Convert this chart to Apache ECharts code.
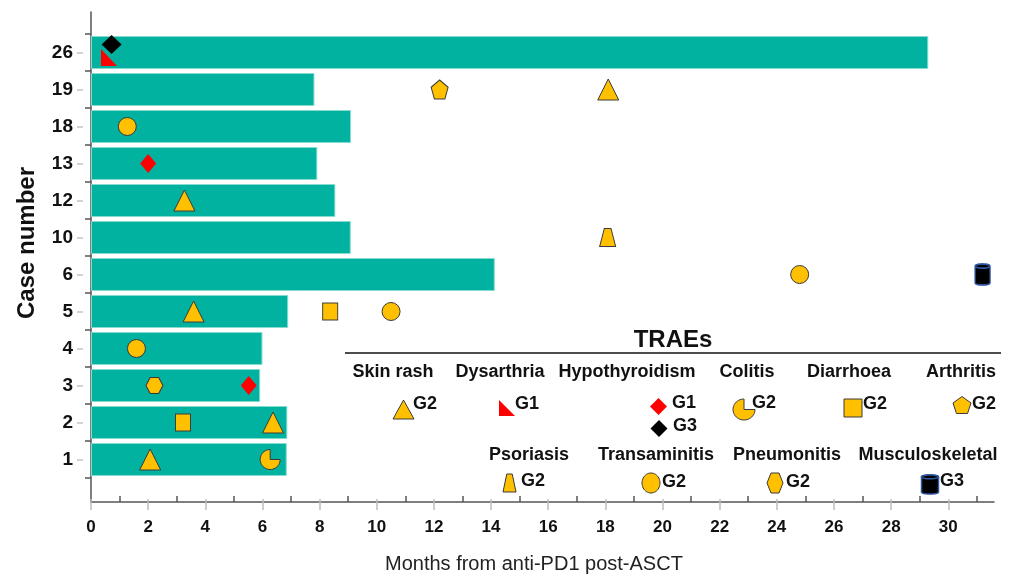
<!DOCTYPE html>
<html><head><meta charset="utf-8">
<script src="https://cdn.jsdelivr.net/npm/echarts@6/dist/echarts.min.js"></script>
<style>html,body{margin:0;padding:0;background:#fff}#c{width:1009px;height:579px}</style>
</head><body><div id="c"></div>
<script>
// ---------------- data ----------------
const cases = ['1','2','3','4','5','6','10','12','13','18','19','26'];
const monthsOnTreatment = [6.85, 6.87, 5.92, 6.0, 6.9, 14.13, 9.09, 8.55, 7.92, 9.1, 7.82, 29.3];
const xTickLabels = ['0','1','2','3','4','5','6','7','8','9','10','11','12','13','14','15','16','17','18','19','20','21','22','23','24','25','26','27','28','29','30','31'];
const xMax = 31.6;

const skinRashG2 = [[2.07,'1'],[6.37,'2'],[3.59,'5'],[3.27,'12'],[18.1,'19']];
const dysarthriaG1 = [[0.63,'26']];
const hypothyroidismG1 = [[5.52,'3'],[2.0,'13']];
const hypothyroidismG3 = [[0.72,'26']];
const colitisG2 = [[6.27,'1']];
const diarrhoeaG2 = [[3.22,'2'],[8.37,'5']];
const arthritisG2 = [[12.2,'19']];
const psoriasisG2 = [[18.08,'10']];
const transaminitisG2 = [[1.59,'4'],[10.5,'5'],[24.8,'6'],[1.27,'18']];
const pneumonitisG2 = [[2.22,'3']];
const musculoskeletalG3 = [[31.2,'6']];

const legendTitle = 'TRAEs';
const legendHeadings = ['Skin rash','Dysarthria','Hypothyroidism','Colitis','Diarrhoea','Arthritis','Psoriasis','Transaminitis','Pneumonitis','Musculoskeletal'];

// ---------------- shapes ----------------
function arc(a0, a1, n, rx, ry, cy) {
  const out = [];
  for (let i = 0; i <= n; i++) {
    const t = (a0 + (a1 - a0) * i / n) * Math.PI / 180;
    out.push([rx * Math.cos(t), cy + ry * Math.sin(t)]);
  }
  return out;
}
function regular(n, startDeg) {
  const out = [];
  for (let i = 0; i < n; i++) {
    const t = (startDeg + 360 * i / n) * Math.PI / 180;
    out.push([Math.cos(t), Math.sin(t)]);
  }
  return out;
}
const cylRy = 0.2;
const SHAPES = {
  triangle: [[[0,-1],[1,1],[-1,1]]],
  rightTriangle: [[[-1,-1],[1,1],[-1,1]]],
  diamond: [[[0,-1],[1,0],[0,1],[-1,0]]],
  square: [[[-1,-1],[1,-1],[1,1],[-1,1]]],
  pentagon: [regular(5, -90)],
  hexagon: [[[-1,0],[-0.5,-1],[0.5,-1],[1,0],[0.5,1],[-0.5,1]]],
  trapezoid: [[[-0.42,-1],[0.42,-1],[1,1],[-1,1]]],
  circle: [arc(0, 360, 48, 1, 1, 0)],
  pacman: [[[0,0]].concat(arc(0, 270, 36, 1, 1, 0))],
  cylinder: [
    arc(180, 360, 20, 1, cylRy, -1 + cylRy).concat(arc(0, 180, 20, 1, cylRy, 1 - cylRy)),
    arc(0, 360, 36, 1, cylRy, -1 + cylRy)
  ]
};
function bbox(polys) {
  let x0 = Infinity, y0 = Infinity, x1 = -Infinity, y1 = -Infinity;
  polys.forEach(p => p.forEach(([x, y]) => {
    x0 = Math.min(x0, x); y0 = Math.min(y0, y); x1 = Math.max(x1, x); y1 = Math.max(y1, y);
  }));
  return [x0, y0, x1, y1];
}
function symbolPath(name) {
  const polys = SHAPES[name];
  return 'path://' + polys.map(p => 'M' + p.map(([x, y]) => (x * 100).toFixed(2) + ',' + (y * 100).toFixed(2)).join('L') + 'Z').join(' ');
}
function legendShape(name, cx, cy, w, h, style) {
  const polys = SHAPES[name];
  const [x0, y0, x1, y1] = bbox(polys);
  const children = polys.map(p => ({
    type: 'polygon',
    shape: { points: p.map(([x, y]) => [cx - w / 2 + (x - x0) / (x1 - x0) * w, cy - h / 2 + (y - y0) / (y1 - y0) * h]) },
    style: Object.assign({}, style)
  }));
  return { type: 'group', children };
}

// ---------------- styles ----------------
const YEL = '#FFC000', RED = '#FF0000', BLK = '#000000';
const yellowStyle = { color: YEL, borderColor: '#3a3a3a', borderWidth: 1, opacity: 1 };
const redStyle = { color: RED, borderWidth: 0, opacity: 1 };
const blackStyle = { color: BLK, borderWidth: 0, opacity: 1 };
const cylStyle = { color: BLK, borderColor: '#2f56a0', borderWidth: 1.5, opacity: 1 };
const FONT = "'Liberation Sans', Arial, sans-serif";
const NARROW = "'Liberation Sans Narrow', 'Liberation Sans', sans-serif";

function scatter(name, data, symbol, size, style, offset) {
  return {
    type: 'scatter', name, data, xAxisIndex: 0, yAxisIndex: 0,
    symbol, symbolSize: size, symbolOffset: offset || [0, 0],
    itemStyle: style, z: 5, silent: true
  };
}

// ---------------- legend graphics ----------------
const gfx = [];
gfx.push({ type: 'text', x: 27, y: 243, rotation: Math.PI / 2,
  style: { text: 'Case number', fontSize: 24, fontWeight: 'bold', fontFamily: FONT, fill: '#111',
    textAlign: 'center', textVerticalAlign: 'middle', align: 'center', verticalAlign: 'middle' } });
gfx.push({ type: 'text', x: 673, y: 340,
  style: { text: legendTitle, fontSize: 24, fontWeight: 'bold', fontFamily: FONT, fill: '#111',
    textAlign: 'center', textVerticalAlign: 'middle', align: 'center', verticalAlign: 'middle' } });
gfx.push({ type: 'line', shape: { x1: 345, y1: 353, x2: 1001, y2: 353 }, style: { stroke: '#111', lineWidth: 1.5 } });
const headPos = [[393,372],[500,372],[627,372],[747,372],[849,372],[961,372],[529,455],[656,455],[787,455],[928,455]];
legendHeadings.forEach((t, i) => {
  gfx.push({ type: 'text', x: headPos[i][0], y: headPos[i][1],
    style: { text: t, fontSize: 18, fontWeight: 'bold', fontFamily: FONT, fill: '#111',
      textAlign: 'center', textVerticalAlign: 'middle', align: 'center', verticalAlign: 'middle' } });
});
const ys = { fill: YEL, stroke: '#3a3a3a', lineWidth: 1 };
const rs = { fill: RED, stroke: null };
const bs = { fill: BLK, stroke: null };
const cs = { fill: BLK, stroke: '#2f56a0', lineWidth: 1.5 };
const legendItems = [
  ['triangle', 403.5, 409.5, 21, 19, ys, 'G2', 413, 404],
  ['rightTriangle', 507, 408, 16, 16, rs, 'G1', 515, 404],
  ['diamond', 658.5, 406.5, 17, 17, rs, 'G1', 672, 403],
  ['diamond', 659, 428.5, 17, 17, bs, 'G3', 673, 426],
  ['pacman', 744, 409.5, 22, 21, ys, 'G2', 752, 403],
  ['square', 853, 408, 18, 18, ys, 'G2', 863, 404],
  ['pentagon', 962, 405, 18, 17, ys, 'G2', 972, 404],
  ['trapezoid', 509.5, 483, 13, 18, ys, 'G2', 521, 481],
  ['circle', 651, 483, 18, 20, ys, 'G2', 662, 482],
  ['hexagon', 775, 483, 16, 20, ys, 'G2', 786, 482],
  ['cylinder', 930, 484.5, 17, 19, cs, 'G3', 940, 481]
];
legendItems.forEach(it => {
  gfx.push(legendShape(it[0], it[1], it[2], it[3], it[4], it[5]));
  gfx.push({ type: 'text', x: it[7], y: it[8],
    style: { text: it[6], fontSize: 18, fontWeight: 'bold', fontFamily: FONT, fill: '#111',
      textAlign: 'left', textVerticalAlign: 'middle', align: 'left', verticalAlign: 'middle' } });
});

// ---------------- chart ----------------
const unitPx = 903 / xMax;
const chart = echarts.init(document.getElementById('c'), null, { renderer: 'canvas' });
chart.setOption({
  animation: false,
  backgroundColor: '#ffffff',
  grid: [
    { left: 91, width: 903, top: 34, height: 444 },
    { left: 91, width: 903, top: 12, height: 490 },
    { left: 91, width: unitPx * 31, top: 12, height: 490 }
  ],
  xAxis: [
    { type: 'value', gridIndex: 0, min: 0, max: xMax, show: false },
    { type: 'value', gridIndex: 1, min: 0, max: xMax, position: 'bottom',
      axisLine: { show: true, lineStyle: { color: '#555', width: 1.5 } },
      axisTick: { show: false }, axisLabel: { show: false }, splitLine: { show: false } },
    { type: 'category', gridIndex: 2, data: xTickLabels, boundaryGap: false, position: 'bottom',
      axisLine: { show: false },
      axisTick: { show: true, interval: (i) => i % 2 === 0, length: 11, lineStyle: { color: '#bdbdbd', width: 1.5 } },
      axisLabel: { show: true, interval: (i) => i % 2 === 0, margin: 20, fontSize: 17, fontWeight: 'bold', fontFamily: NARROW, color: '#111' },
      splitLine: { show: false },
      name: 'Months from anti-PD1 post-ASCT', nameLocation: 'middle', nameGap: 55,
      nameTextStyle: { fontSize: 20, fontFamily: FONT, color: '#222', fontWeight: 'normal' } },
    { type: 'category', gridIndex: 2, data: xTickLabels, boundaryGap: false, position: 'bottom', offset: -3,
      axisLine: { show: false },
      axisTick: { show: true, interval: (i) => i % 2 === 1, length: 6, lineStyle: { color: '#555', width: 1.5 } },
      axisLabel: { show: false }, splitLine: { show: false } }
  ],
  yAxis: [
    { type: 'category', gridIndex: 0, data: cases, position: 'left',
      axisLine: { show: false },
      axisTick: { show: true, length: 6, lineStyle: { color: '#555', width: 1.5 } },
      axisLabel: { margin: 18, fontSize: 19, fontWeight: 'bold', fontFamily: FONT, color: '#111' },
      splitLine: { show: false } },
    { type: 'category', gridIndex: 0, data: cases, position: 'left', offset: 8,
      axisLine: { show: false },
      axisTick: { show: true, alignWithLabel: true, length: 6, lineStyle: { color: '#c4c4c4', width: 1.5 } },
      axisLabel: { show: false }, splitLine: { show: false } },
    { type: 'value', gridIndex: 1, min: 0, max: 1, position: 'left',
      axisLine: { show: true, lineStyle: { color: '#555', width: 1.5 } },
      axisTick: { show: false }, axisLabel: { show: false }, splitLine: { show: false } },
    { type: 'value', gridIndex: 2, show: false, splitLine: { show: false } }
  ],
  series: [
    { type: 'bar', name: 'Months', xAxisIndex: 0, yAxisIndex: 0, data: monthsOnTreatment, barWidth: 33,
      itemStyle: { color: '#02B2A0', borderColor: '#86dbcf', borderWidth: 1 }, silent: true, z: 2 },
    scatter('Skin rash G2', skinRashG2, 'triangle', [21, 21], yellowStyle),
    scatter('Dysarthria G1', dysarthriaG1, symbolPath('rightTriangle'), [16, 17], redStyle, [0, 5]),
    scatter('Hypothyroidism G1', hypothyroidismG1, 'diamond', [16, 19], redStyle),
    scatter('Hypothyroidism G3', hypothyroidismG3, 'diamond', [20, 19], blackStyle, [0, -8]),
    scatter('Colitis G2', colitisG2, symbolPath('pacman'), [20, 20], yellowStyle),
    scatter('Diarrhoea G2', diarrhoeaG2, 'rect', [15, 17], yellowStyle),
    scatter('Arthritis G2', arthritisG2, symbolPath('pentagon'), [17, 19], yellowStyle),
    scatter('Psoriasis G2', psoriasisG2, symbolPath('trapezoid'), [16, 18], yellowStyle),
    scatter('Transaminitis G2', transaminitisG2, 'circle', [18, 18], yellowStyle),
    scatter('Pneumonitis G2', pneumonitisG2, symbolPath('hexagon'), [17, 16], yellowStyle),
    scatter('Musculoskeletal G3', musculoskeletalG3, symbolPath('cylinder'), [15, 21], cylStyle)
  ],
  graphic: { elements: gfx }
});
</script>
</body></html>
